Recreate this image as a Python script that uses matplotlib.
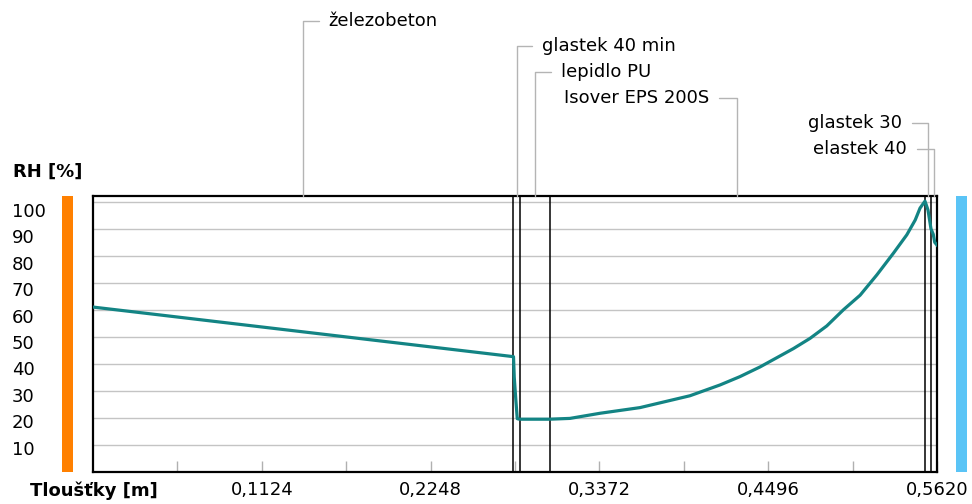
import matplotlib
matplotlib.use("Agg")
import matplotlib.pyplot as plt
from matplotlib.patches import Rectangle
import numpy as np

# vrstvy konstrukce (od interieru)
layer_names = ["železobeton", "glastek 40 min", "lepidlo PU", "Isover EPS 200S", "glastek 30", "elastek 40"]
layer_thickness = [0.280, 0.004, 0.020, 0.250, 0.004, 0.004]

# prubeh relativni vlhkosti v konstrukci
rh_x = [0.0, 0.070, 0.140, 0.210, 0.280, 0.2805, 0.2815, 0.2825, 0.284, 0.304,
        0.3176, 0.3376, 0.3642, 0.3975, 0.4175, 0.4308, 0.4442, 0.4664, 0.4775,
        0.4886, 0.4997, 0.5108, 0.5219, 0.5330, 0.5419, 0.5475, 0.5507, 0.554,
        0.556, 0.558, 0.5595, 0.5605, 0.562]
rh_values = [61.0, 56.4, 51.8, 47.2, 42.6, 35.0, 27.0, 19.6, 19.4, 19.4,
             19.7, 21.6, 23.7, 28.1, 32.1, 35.2, 38.8, 45.6, 49.4,
             54.0, 60.0, 65.4, 72.9, 81.0, 87.8, 93.3, 97.7, 100.3,
             97.0, 90.0, 88.0, 85.0, 84.0]

x_ticks = [0.0562, 0.1124, 0.1686, 0.2248, 0.2810, 0.3372, 0.3934, 0.4496, 0.5058, 0.5620]
x_tick_labels = ["", "0,1124", "", "0,2248", "", "0,3372", "", "0,4496", "", "0,5620"]
y_ticks = [10, 20, 30, 40, 50, 60, 70, 80, 90, 100]

# umisteni popisku vrstev (posun v pixelech od horniho okraje grafu)
label_offsets = [(25, 175), (25, 150), (26, 124), (-28, 98), (-26, 73), (-27, 47)]

W, H = 972, 504
fig = plt.figure(figsize=(W / 100, H / 100), dpi=100)
fig.patch.set_facecolor("white")
ax = fig.add_axes([93 / W, 32.5 / H, 844 / W, 275.5 / H])

ax.set_xlim(0, 0.562)
ax.set_ylim(0, 102.2)

for v in y_ticks:
    ax.axhline(v, color="#c4c4c4", lw=1.0, zorder=1)

bounds = np.cumsum(layer_thickness)
for b in bounds[:-1]:
    ax.axvline(b, color="black", lw=1.1, zorder=3)

ax.plot(rh_x, rh_values, color="#138484", lw=2.3, zorder=4, solid_joinstyle="round")

for s in ax.spines.values():
    s.set_linewidth(1.6)
    s.set_color("black")

ax.set_xticks(x_ticks)
ax.set_xticklabels(x_tick_labels, fontsize=13)
ax.tick_params(axis="x", direction="in", length=8, width=1, color="#b0b0b0", pad=7)
ax.set_yticks([])

# popisky osy y
ytr = ax.get_yaxis_transform()
for v in y_ticks:
    ax.text(-0.096, v * 0.982 - 1.8, str(v), transform=ytr, ha="left", va="center", fontsize=13)

fig.text(12.5 / W, 1 - 172 / H, "RH [%]", fontsize=13, fontweight="bold", ha="left", va="center")
fig.text(158 / W, 1 - 491 / H, "Tloušťky [m]", fontsize=13, fontweight="bold", ha="right", va="center")

# barevne pruhy interier / exterier
ax.add_patch(Rectangle((-31 / 844, 0), 11 / 844, 1.0, transform=ax.transAxes,
                       color="#ff8000", clip_on=False, lw=0))
ax.add_patch(Rectangle((863 / 844, 0), 11 / 844, 1.0, transform=ax.transAxes,
                       color="#5ac4f6", clip_on=False, lw=0))

# popisky vrstev s vodicimi carami
starts = np.concatenate([[0], bounds[:-1]])
xtr = ax.get_xaxis_transform()
for name, st, th, (dx, dy) in zip(layer_names, starts, layer_thickness, label_offsets):
    mid = st + th / 2
    ax.annotate(name, xy=(mid, 1.0), xycoords=xtr,
                xytext=(dx, dy), textcoords="offset pixels",
                ha="left" if dx > 0 else "right", va="center", fontsize=13,
                arrowprops=dict(arrowstyle="-", color="#b4b4b4", lw=1.0,
                                connectionstyle="angle,angleA=0,angleB=90,rad=0",
                                relpos=(0, 0.5) if dx > 0 else (1, 0.5),
                                shrinkA=5, shrinkB=0))

fig.savefig("out.png", dpi=100)
